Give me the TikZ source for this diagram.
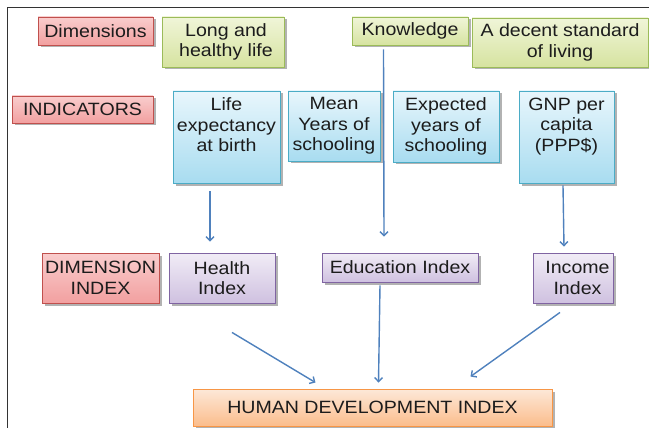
\documentclass[tikz,border=0pt]{standalone}
\usepackage{fontspec}
\setmainfont{Liberation Sans}[FakeStretch=1.1]
\usetikzlibrary{shadows,arrows.meta}
\definecolor{txt}{HTML}{1C1C1C}
\definecolor{redb}{HTML}{C0504D}
\definecolor{redt}{HTML}{F9CDCD}
\definecolor{redbot}{HTML}{F2A0A0}
\definecolor{grnb}{HTML}{9BBB59}
\definecolor{grnt}{HTML}{F0F5D8}
\definecolor{grnbot}{HTML}{D6E3A0}
\definecolor{blub}{HTML}{4BACC6}
\definecolor{blut}{HTML}{E8F6FC}
\definecolor{blubot}{HTML}{A8DCF0}
\definecolor{purb}{HTML}{8064A2}
\definecolor{purt}{HTML}{F1ECF6}
\definecolor{purbot}{HTML}{CFC1E0}
\definecolor{orab}{HTML}{F79646}
\definecolor{orat}{HTML}{FDE8D8}
\definecolor{orabot}{HTML}{FBBD8C}
\definecolor{arrc}{HTML}{4F81BD}
\tikzset{
  box/.style={rectangle, inner sep=0pt, align=center, text=txt, line width=0.9pt,
    font=\fontsize{17.8}{20.5}\selectfont,
    drop shadow={shadow xshift=2.5pt, shadow yshift=-2.5pt, fill=black!55, opacity=0.55}},
  redbox/.style={box, draw=redb, top color=redt, bottom color=redbot},
  grnbox/.style={box, draw=grnb, top color=grnt, bottom color=grnbot},
  blubox/.style={box, draw=blub, top color=blut, bottom color=blubot},
  purbox/.style={box, draw=purb, top color=purt, bottom color=purbot},
  orabox/.style={box, draw=orab, top color=orat, bottom color=orabot},
  arr/.style={draw=arrc, line width=1.4pt, -{Straight Barb[length=4pt,width=8pt]}},
  frame/.style={draw=black!80, line width=1pt}
}
\begin{document}
\begin{tikzpicture}[x=1pt,y=-1pt]
\useasboundingbox (0,0) rectangle (649,428);
\coordinate (ftr) at (649,8);
\coordinate (ftl) at (7,8);
\coordinate (fbl) at (7,428);
\draw[frame] (ftr) -- (ftl) -- (fbl);

% row 1
\node[redbox, minimum width=115pt, minimum height=28pt] (dim) at (95.5,31) {Dimensions};
\node[grnbox, minimum width=122pt, minimum height=50pt] (long) at (223,42) {\hspace*{6pt}Long and\\\hspace*{6pt}healthy life};
\node[grnbox, minimum width=116pt, minimum height=28pt] (know) at (410,31) {Knowledge};
\node[grnbox, minimum width=176pt, minimum height=49pt] (dec) at (560,42.5) {A decent standard\\of living};

% row 2
\node[redbox, minimum width=141pt, minimum height=27pt] (ind) at (82.5,109.5) {INDICATORS};
\node[blubox, minimum width=107pt, minimum height=92pt] (life) at (226.5,137) {Life\\expectancy\\at birth\\[4pt]};
\node[blubox, minimum width=92pt, minimum height=70pt] (mean) at (334,126) {Mean\\Years of\\schooling};
\node[blubox, minimum width=106pt, minimum height=71pt] (exp) at (446,126.5) {Expected\\years of\\schooling};
\node[blubox, minimum width=95pt, minimum height=92pt] (gnp) at (566.5,137) {GNP per\\capita\\(PPP\$)\\[4pt]};

% row 3
\node[redbox, minimum width=117pt, minimum height=50pt] (dimidx) at (100.5,278) {DIMENSION\\INDEX};
\node[purbox, minimum width=106pt, minimum height=50pt] (health) at (222,278) {Health\\Index};
\node[purbox, minimum width=156pt, minimum height=29pt] (edu) at (400,267.5) {Education Index};
\node[purbox, minimum width=80pt, minimum height=50pt] (income) at (573,278) {\hspace*{9pt}Income\\\hspace*{9pt}Index};

% row 4
\node[orabox, minimum width=359pt, minimum height=37pt] (hdi) at (372.5,407.5) {HUMAN DEVELOPMENT INDEX};

% arrows
\draw[arr] ([xshift=-16.5pt,yshift=-8pt]life.south) -- ([xshift=-12pt,yshift=11pt]health.north);
\draw[arr] ([xshift=-26.5pt,yshift=-4pt]know.south) -- ([xshift=-16pt,yshift=16pt]edu.north);
\draw[arr] ([xshift=-3.5pt,yshift=-2pt]gnp.south) -- ([xshift=-9pt,yshift=6pt]income.north);
\draw[arr] ([xshift=10pt,yshift=-29pt]health.south) -- ([xshift=-57pt,yshift=6pt]hdi.north);
\draw[arr] ([xshift=-20pt,yshift=-3pt]edu.south) -- ([xshift=6pt,yshift=6pt]hdi.north);
\draw[arr] ([xshift=-13pt,yshift=-9pt]income.south) -- ([xshift=98pt,yshift=12pt]hdi.north);
\end{tikzpicture}
\end{document}
